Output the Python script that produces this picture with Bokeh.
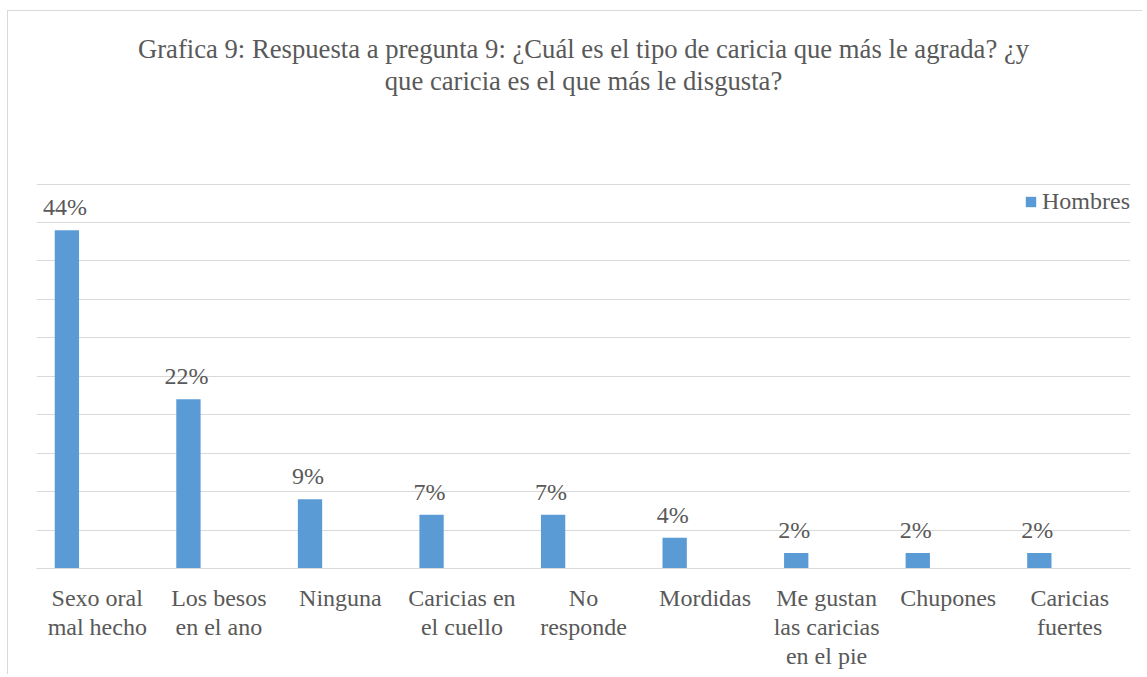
from bokeh.plotting import figure
from bokeh.models import (ColumnDataSource, FactorRange, Range1d, LabelSet, FixedTicker,
                          Title, CategoricalAxis)
from bokeh.transform import dodge
from bokeh.embed import file_html
from bokeh.resources import INLINE

categories = ["Sexo oral mal hecho", "Los besos en el ano", "Ninguna",
              "Caricias en el cuello", "No responde", "Mordidas",
              "Me gustan las caricias en el pie", "Chupones", "Caricias fuertes"]
tick_labels = ["Sexo oral\nmal hecho", "Los besos\nen el ano", "Ninguna",
               "Caricias en\nel cuello", "No\nresponde", "Mordidas",
               "Me gustan\nlas caricias\nen el pie", "Chupones", "Caricias\nfuertes"]
hombres = [44, 22, 9, 7, 7, 4, 2, 2, 2]
value_labels = ["44%", "22%", "9%", "7%", "7%", "4%", "2%", "2%", "2%"]
y_ticks = [0, 5, 10, 15, 20, 25, 30, 35, 40, 45, 50]
title_line1 = "Grafica 9: Respuesta a pregunta 9: ¿Cuál es el tipo de caricia que más le agrada? ¿y"
title_line2 = "que caricia es el que más le disgusta?"

FONT = "Liberation Serif"
TXT = "#595959"
GRID = "#D9D9D9"
BAR = "#5B9BD5"

src = ColumnDataSource(dict(cat=categories, hombres=hombres, label=value_labels))

# plot area reaches up to the title; gridlines stop at 50 %
p = figure(x_range=FactorRange(*categories, range_padding=0),
           y_range=Range1d(0, 61.52),
           width=1135, height=664,
           output_backend="svg", toolbar_location=None,
           min_border_left=28, min_border_right=13,
           min_border_top=84, min_border_bottom=107)

p.styles = {"margin-left": "7px", "margin-top": "10px",
            "border-left": "1px solid #D9D9D9", "border-top": "1px solid #D9D9D9"}
p.outline_line_color = None
p.background_fill_color = "white"
p.border_fill_color = "white"

p.title.text = title_line1
p.title.align = "center"
p.title.text_font = FONT
p.title.text_font_size = "26.67px"
p.title.text_font_style = "normal"
p.title.text_color = TXT
p.title.standoff = 0
t2 = Title(text=title_line2, align="center", text_font=FONT, text_font_size="26.67px",
           text_font_style="normal", text_color=TXT, standoff=0)
p.add_layout(t2, "above")

p.yaxis.visible = False
p.xaxis.visible = False
p.xgrid.visible = False
p.ygrid.ticker = FixedTicker(ticks=y_ticks)
p.ygrid.grid_line_color = GRID
p.ygrid.grid_line_width = 1

# category labels: one axis per text line, each on its own factor range
lines = [t.split("\n") for t in tick_labels]
nlines = max(len(l) for l in lines)
for k in range(nlines):
    factors = [l[k] if len(l) > k else " " * (i + 1) for i, l in enumerate(lines)]
    name = f"line{k}"
    p.extra_x_ranges[name] = FactorRange(*factors, range_padding=0)
    ax = CategoricalAxis(x_range_name=name)
    ax.major_tick_line_color = None
    ax.minor_tick_line_color = None
    ax.major_tick_out = 0
    ax.major_tick_in = 0
    ax.major_label_standoff = 16 if k == 0 else 0
    ax.major_label_text_font = FONT
    ax.major_label_text_font_size = "24px"
    ax.major_label_text_color = TXT
    ax.major_label_orientation = "horizontal"
    ax.axis_line_color = GRID if k == 0 else None
    p.add_layout(ax, "below")

p.vbar(x=dodge("cat", -0.25, range=p.x_range), top="hombres", width=0.2,
       source=src, fill_color=BAR, line_color=None, legend_label="Hombres")

labels = LabelSet(x=dodge("cat", -0.25, range=p.x_range), y="hombres", text="label",
                  source=src, y_offset=15, x_offset=-2, text_align="center",
                  text_baseline="alphabetic",
                  text_font=FONT, text_font_size="24px", text_color=TXT)
p.add_layout(labels)

lg = p.legend[0]
lg.location = (988, 353)
lg.background_fill_alpha = 0
lg.border_line_color = None
lg.margin = 0
lg.padding = 0
lg.spacing = 0
lg.glyph_width = 13
lg.glyph_height = 13
lg.label_standoff = 5
lg.label_text_font = FONT
lg.label_text_font_size = "24px"
lg.label_text_color = TXT
lg.label_height = 13

open("out.html", "w").write(file_html(p, INLINE))
